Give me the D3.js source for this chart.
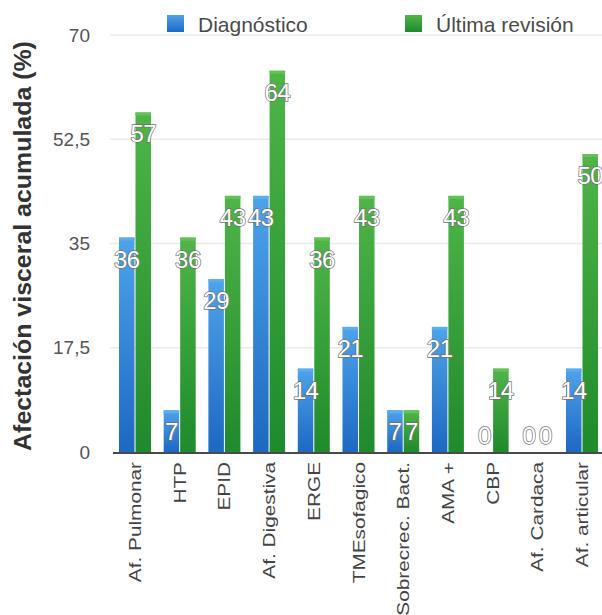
<!DOCTYPE html>
<html>
<head>
<meta charset="utf-8">
<script src="https://cdn.jsdelivr.net/npm/d3@7"></script>
<style>
  html, body { margin: 0; padding: 0; background: #fff; }
  svg { display: block; }
</style>
</head>
<body>
<svg id="chart" width="602" height="615"></svg>
<script>
// Afectación visceral acumulada (%) por órgano: al diagnóstico y en la última revisión
const categories = ["Af. Pulmonar", "HTP", "EPID", "Af. Digestiva", "ERGE", "TMEsofagico",
  "Sobrecrec. Bact.", "AMA +", "CBP", "Af. Cardaca", "Af. articular"];
const seriesNames = ["Diagnóstico", "Última revisión"];
const diagnostico = [36, 7, 29, 43, 14, 21, 7, 21, 0, 0, 14];
const ultimaRevision = [57, 36, 43, 64, 36, 43, 7, 43, 14, 0, 50];
const yTicks = [0, 17.5, 35, 52.5, 70];
const yTickLabels = ["0", "17,5", "35", "52,5", "70"];
const yTitle = "Afectación visceral acumulada (%)";

const FONT = "Liberation Sans, Arial, sans-serif";
const svg = d3.select("#chart");
const plot = { left: 113, right: 604, top: 35, bottom: 452 };

const x = d3.scaleBand().domain(categories)
  .range([plot.left, plot.right]).paddingInner(0.284).paddingOuter(0.134);
const xs = d3.scaleBand().domain([0, 1]).range([0, x.bandwidth()]).paddingInner(0.06);
const y = d3.scaleLinear().domain([0, 70]).range([plot.bottom, plot.top]);

// gradients
const defs = svg.append("defs");
function grad(id, top, bottom) {
  const g = defs.append("linearGradient").attr("id", id)
    .attr("x1", 0).attr("y1", 0).attr("x2", 0).attr("y2", 1);
  g.append("stop").attr("offset", "0%").attr("stop-color", top);
  g.append("stop").attr("offset", "100%").attr("stop-color", bottom);
}
grad("gBlue", "#4ea3ea", "#1d68c2");
grad("gGreen", "#4fb548", "#1f8a2c");
const fills = ["url(#gBlue)", "url(#gGreen)"];
const capColors = ["#5aaef0", "#63c255"];

// grid lines
svg.append("g").selectAll("line").data(yTicks.slice(1)).join("line")
  .attr("x1", 110).attr("x2", 602)
  .attr("y1", d => y(d)).attr("y2", d => y(d))
  .attr("stroke", "#ebebeb").attr("stroke-width", 1.5);

// y axis labels
const yAxis = d3.axisLeft(y).tickValues(yTicks)
  .tickFormat((d, i) => yTickLabels[i]).tickSize(0).tickPadding(0);
const yg = svg.append("g").attr("transform", `translate(90,0)`).call(yAxis);
yg.select(".domain").remove();
yg.selectAll("text").attr("font-family", FONT)
  .attr("font-size", 19).attr("fill", "#555");

// y title, stretched along its length
const titleLen = 410, titleMid = 246;
const tt = svg.append("text")
  .attr("text-anchor", "middle")
  .attr("font-family", FONT)
  .attr("font-weight", "bold").attr("font-size", 23).attr("fill", "#333")
  .text(yTitle);
const tNat = tt.node().getComputedTextLength();
tt.attr("transform", `translate(31,${titleMid}) rotate(-90) scale(${titleLen / tNat},1)`);

// bars
const rows = categories.map((c, i) => ({ cat: c, vals: [diagnostico[i], ultimaRevision[i]] }));
const groups = svg.append("g").selectAll("g").data(rows).join("g")
  .attr("transform", d => `translate(${x(d.cat)},0)`);

groups.selectAll("rect.bar").data(d => d.vals.map((v, k) => ({ v, k }))).join("rect")
  .attr("class", "bar")
  .attr("x", d => xs(d.k)).attr("width", xs.bandwidth())
  .attr("y", d => y(d.v)).attr("height", d => y(0) - y(d.v))
  .attr("fill", d => fills[d.k]);

groups.selectAll("rect.cap").data(d => d.vals.map((v, k) => ({ v, k })).filter(e => e.v > 0)).join("rect")
  .attr("class", "cap")
  .attr("x", d => xs(d.k)).attr("width", xs.bandwidth())
  .attr("y", d => y(d.v)).attr("height", 3)
  .attr("fill", d => capColors[d.k]);

// baseline
svg.append("line").attr("x1", plot.left).attr("x2", 602)
  .attr("y1", y(0) + 1).attr("y2", y(0) + 1)
  .attr("stroke", "#4a4a4a").attr("stroke-width", 2);

// value labels
groups.selectAll("text.val").data(d => d.vals.map((v, k) => ({ v, k }))).join("text")
  .attr("class", "val")
  .attr("x", d => xs(d.k) + xs.bandwidth() / 2)
  .attr("y", d => Math.min(y(d.v) + 30, y(0) - 8))
  .attr("text-anchor", "middle")
  .attr("font-family", FONT)
  .attr("font-size", 24).attr("letter-spacing", -0.5)
  .attr("fill", "#fff").attr("stroke", "#707070").attr("stroke-width", 1.4)
  .attr("paint-order", "stroke")
  .text(d => d.v);

// x labels, rotated and stretched along their length
groups.append("text")
  .attr("transform", `translate(${x.bandwidth() / 2 + 6},462) rotate(-90) scale(1.3,1)`)
  .attr("text-anchor", "end")
  .attr("font-family", FONT)
  .attr("font-size", 16).attr("fill", "#444")
  .text(d => d.cat);

// legend
const legend = svg.append("g");
const legendPos = [167, 405];
seriesNames.forEach((name, k) => {
  legend.append("rect").attr("x", legendPos[k]).attr("y", 15).attr("width", 17).attr("height", 17)
    .attr("fill", fills[k]);
  legend.append("text").attr("x", legendPos[k] + 31).attr("y", 32)
    .attr("font-family", FONT)
    .attr("font-size", 21).attr("fill", "#4a4a4a")
    .text(name);
});
</script>
</body>
</html>
